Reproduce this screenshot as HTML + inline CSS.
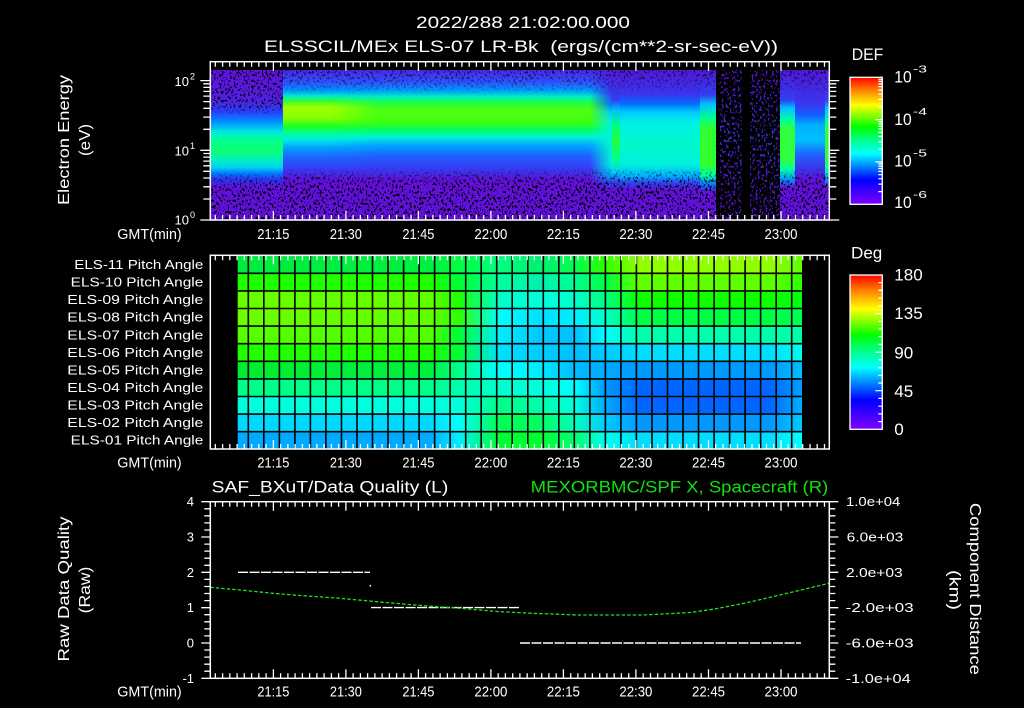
<!DOCTYPE html>
<html><head><meta charset="utf-8"><style>
html,body{margin:0;padding:0;background:#000;width:1024px;height:708px;overflow:hidden}
svg{display:block}
text{font-family:"Liberation Sans",sans-serif;fill:#fff}
</style></head><body>
<svg width="1024" height="708" viewBox="0 0 1024 708" xmlns="http://www.w3.org/2000/svg">
<defs>
<linearGradient id="rainbow" x1="0" y1="0" x2="0" y2="1">
<stop offset="0" stop-color="#ff0000"/><stop offset=".1" stop-color="#ff8000"/><stop offset=".22" stop-color="#ffff00"/><stop offset=".39" stop-color="#00ff00"/><stop offset=".5" stop-color="#00ff90"/><stop offset=".6" stop-color="#00ffff"/><stop offset=".81" stop-color="#0000ff"/><stop offset="1" stop-color="#8000ff"/>
</linearGradient>
<linearGradient id="gA" gradientUnits="userSpaceOnUse" x1="0" y1="70" x2="0" y2="220">
<stop offset="0" stop-color="#6010d8"/><stop offset=".2" stop-color="#5020e0"/><stop offset=".28" stop-color="#2840ff"/><stop offset=".347" stop-color="#0090ff"/><stop offset=".413" stop-color="#00e8e0"/><stop offset=".467" stop-color="#00ff90"/><stop offset=".533" stop-color="#10ff70"/><stop offset=".6" stop-color="#00f0c0"/><stop offset=".65" stop-color="#00d0f0"/><stop offset=".687" stop-color="#0080ff"/><stop offset=".733" stop-color="#3030f0"/><stop offset=".787" stop-color="#6010d8"/><stop offset="1" stop-color="#6010d8"/>
</linearGradient>
<linearGradient id="gB1" gradientUnits="userSpaceOnUse" x1="0" y1="70" x2="0" y2="220">
<stop offset="0" stop-color="#4828e8"/><stop offset=".08" stop-color="#3050ff"/><stop offset=".133" stop-color="#0090ff"/><stop offset=".173" stop-color="#00e8d0"/><stop offset=".207" stop-color="#30ff30"/><stop offset=".247" stop-color="#a0ff00"/><stop offset=".32" stop-color="#88ff00"/><stop offset=".373" stop-color="#20ff20"/><stop offset=".42" stop-color="#00ff90"/><stop offset=".467" stop-color="#00e8e8"/><stop offset=".52" stop-color="#00a0ff"/><stop offset=".587" stop-color="#2060ff"/><stop offset=".667" stop-color="#3838f0"/><stop offset=".733" stop-color="#6010d8"/><stop offset="1" stop-color="#6010d8"/>
</linearGradient>
<linearGradient id="gB2" gradientUnits="userSpaceOnUse" x1="0" y1="70" x2="0" y2="220">
<stop offset="0" stop-color="#4828e8"/><stop offset=".08" stop-color="#3050ff"/><stop offset=".133" stop-color="#0098ff"/><stop offset=".18" stop-color="#00f0c0"/><stop offset=".22" stop-color="#20ff40"/><stop offset=".267" stop-color="#50ff10"/><stop offset=".347" stop-color="#40ff10"/><stop offset=".4" stop-color="#00ff60"/><stop offset=".447" stop-color="#00f0d8"/><stop offset=".5" stop-color="#00a8ff"/><stop offset=".573" stop-color="#2060ff"/><stop offset=".667" stop-color="#3838f0"/><stop offset=".733" stop-color="#6010d8"/><stop offset="1" stop-color="#6010d8"/>
</linearGradient>
<linearGradient id="gC" gradientUnits="userSpaceOnUse" x1="0" y1="70" x2="0" y2="220">
<stop offset="0" stop-color="#5018d8"/><stop offset=".167" stop-color="#3838f0"/><stop offset=".227" stop-color="#0070ff"/><stop offset=".28" stop-color="#00c8ff"/><stop offset=".347" stop-color="#00f0e8"/><stop offset=".5" stop-color="#00f8c8"/><stop offset=".633" stop-color="#00f0e0"/><stop offset=".707" stop-color="#00b0ff"/><stop offset=".753" stop-color="#3040f0"/><stop offset=".8" stop-color="#6010d8"/><stop offset="1" stop-color="#6010d8"/>
</linearGradient>
<linearGradient id="gCg" gradientUnits="userSpaceOnUse" x1="0" y1="70" x2="0" y2="220">
<stop offset="0" stop-color="#5018d8"/><stop offset=".2" stop-color="#3040f0"/><stop offset=".267" stop-color="#00c0ff"/><stop offset=".367" stop-color="#00ff80"/><stop offset=".467" stop-color="#20ff40"/><stop offset=".6" stop-color="#00ff90"/><stop offset=".68" stop-color="#00d0ff"/><stop offset=".747" stop-color="#3040f0"/><stop offset=".8" stop-color="#6010d8"/><stop offset="1" stop-color="#6010d8"/>
</linearGradient>
<linearGradient id="gD" gradientUnits="userSpaceOnUse" x1="0" y1="70" x2="0" y2="220">
<stop offset="0" stop-color="#5018d8"/><stop offset=".167" stop-color="#3040f0"/><stop offset=".227" stop-color="#00c0ff"/><stop offset=".32" stop-color="#00ff90"/><stop offset=".387" stop-color="#30ff30"/><stop offset=".633" stop-color="#30ff30"/><stop offset=".7" stop-color="#00ffa0"/><stop offset=".76" stop-color="#0080ff"/><stop offset=".813" stop-color="#6010d8"/><stop offset="1" stop-color="#6010d8"/>
</linearGradient>
<linearGradient id="gE" gradientUnits="userSpaceOnUse" x1="0" y1="70" x2="0" y2="220">
<stop offset="0" stop-color="#5010c0"/><stop offset=".25" stop-color="#4020c8"/><stop offset=".45" stop-color="#3030d0"/><stop offset=".6" stop-color="#4020c0"/><stop offset="1" stop-color="#5010c0"/>
</linearGradient>
<linearGradient id="gF" gradientUnits="userSpaceOnUse" x1="0" y1="70" x2="0" y2="220">
<stop offset="0" stop-color="#5018d8"/><stop offset=".2" stop-color="#3040f0"/><stop offset=".253" stop-color="#00c0ff"/><stop offset=".333" stop-color="#00ffa0"/><stop offset=".387" stop-color="#30ff40"/><stop offset=".6" stop-color="#30ff40"/><stop offset=".667" stop-color="#00ffb0"/><stop offset=".733" stop-color="#0090ff"/><stop offset=".787" stop-color="#6010d8"/><stop offset="1" stop-color="#6010d8"/>
</linearGradient>
<linearGradient id="gG" gradientUnits="userSpaceOnUse" x1="0" y1="70" x2="0" y2="220">
<stop offset="0" stop-color="#5018d8"/><stop offset=".233" stop-color="#3838f0"/><stop offset=".3" stop-color="#1060ff"/><stop offset=".367" stop-color="#00b0ff"/><stop offset=".467" stop-color="#00c0ff"/><stop offset=".567" stop-color="#2060ff"/><stop offset=".667" stop-color="#4030e8"/><stop offset=".733" stop-color="#6010d8"/><stop offset="1" stop-color="#6010d8"/>
</linearGradient>
<linearGradient id="mgA" gradientUnits="userSpaceOnUse" x1="0" y1="70" x2="0" y2="220">
<stop offset="0" stop-color="#fff"/><stop offset=".233" stop-color="#ccc"/><stop offset=".3" stop-color="#000"/><stop offset=".68" stop-color="#000"/><stop offset=".747" stop-color="#bbb"/><stop offset=".8" stop-color="#fff"/><stop offset="1" stop-color="#fff"/>
</linearGradient>
<linearGradient id="mgB" gradientUnits="userSpaceOnUse" x1="0" y1="70" x2="0" y2="220">
<stop offset="0" stop-color="#aaa"/><stop offset=".1" stop-color="#555"/><stop offset=".167" stop-color="#000"/><stop offset=".653" stop-color="#000"/><stop offset=".72" stop-color="#aaa"/><stop offset=".787" stop-color="#fff"/><stop offset="1" stop-color="#fff"/>
</linearGradient>
<linearGradient id="fadeB1" gradientUnits="userSpaceOnUse" x1="330" y1="0" x2="378" y2="0"><stop offset="0" stop-color="#fff"/><stop offset="1" stop-color="#000"/></linearGradient>
<mask id="mB1" maskUnits="userSpaceOnUse" x="280" y="60" width="110" height="165"><rect x="283" y="70" width="100" height="150" fill="url(#fadeB1)"/></mask>
<linearGradient id="fadeC" gradientUnits="userSpaceOnUse" x1="590" y1="0" x2="612" y2="0"><stop offset="0" stop-color="#000"/><stop offset="1" stop-color="#fff"/></linearGradient>
<mask id="mC" maskUnits="userSpaceOnUse" x="585" y="60" width="120" height="165"><rect x="588" y="70" width="112" height="150" fill="url(#fadeC)"/></mask>
<mask id="spkMask" maskUnits="userSpaceOnUse" x="205" y="60" width="630" height="165">
<rect x="210" y="70" width="73" height="150" fill="url(#mgA)"/>
<rect x="283" y="70" width="433" height="150" fill="url(#mgB)"/>
<rect x="780" y="70" width="50" height="150" fill="url(#mgB)"/>
</mask>
<filter id="spk" filterUnits="userSpaceOnUse" x="210" y="70" width="620" height="150" color-interpolation-filters="sRGB">
<feTurbulence type="fractalNoise" baseFrequency="0.5 0.35" numOctaves="2" seed="7"/>
<feColorMatrix type="matrix" values="0 0 0 0 0  0 0 0 0 0  0 0 0 0 0  1 0 0 0 0"/>
<feComponentTransfer><feFuncA type="discrete" tableValues="1 1 0 0 0"/></feComponentTransfer>
</filter>
<filter id="spk2" filterUnits="userSpaceOnUse" x="716" y="70" width="64" height="150" color-interpolation-filters="sRGB">
<feTurbulence type="fractalNoise" baseFrequency="0.5 0.35" numOctaves="2" seed="11"/>
<feColorMatrix type="matrix" values="0 0 0 0 0  0 0 0 0 0  0 0 0 0 0  1 0 0 0 0"/>
<feComponentTransfer><feFuncA type="discrete" tableValues="1 1 1 0 0"/></feComponentTransfer>
</filter>
<!-- row gradients middle panel -->
<linearGradient id="r1" gradientUnits="userSpaceOnUse" x1="238" y1="0" x2="802" y2="0"><stop offset="0" stop-color="#00ec40"/><stop offset=".34" stop-color="#00f040"/><stop offset=".39" stop-color="#00ff40"/><stop offset=".465" stop-color="#00ff80"/><stop offset=".535" stop-color="#00f070"/><stop offset=".598" stop-color="#00ff50"/><stop offset=".651" stop-color="#30ff00"/><stop offset=".713" stop-color="#90ff00"/><stop offset=".943" stop-color="#90ff00"/><stop offset="1" stop-color="#60ff00"/></linearGradient>
<linearGradient id="r2" gradientUnits="userSpaceOnUse" x1="238" y1="0" x2="802" y2="0"><stop offset="0" stop-color="#20ff00"/><stop offset=".34" stop-color="#20ff00"/><stop offset=".39" stop-color="#00ff30"/><stop offset=".465" stop-color="#00ffa0"/><stop offset=".535" stop-color="#00f0b0"/><stop offset=".598" stop-color="#00ff90"/><stop offset=".651" stop-color="#00ff40"/><stop offset=".713" stop-color="#60ff00"/><stop offset=".943" stop-color="#60ff00"/><stop offset="1" stop-color="#30ff00"/></linearGradient>
<linearGradient id="r3" gradientUnits="userSpaceOnUse" x1="238" y1="0" x2="802" y2="0"><stop offset="0" stop-color="#66ff00"/><stop offset=".34" stop-color="#60ff00"/><stop offset=".39" stop-color="#20ff00"/><stop offset=".465" stop-color="#00ffcc"/><stop offset=".535" stop-color="#00ffdd"/><stop offset=".598" stop-color="#00ffcc"/><stop offset=".651" stop-color="#00ff80"/><stop offset=".713" stop-color="#10ff00"/><stop offset=".943" stop-color="#10ff00"/><stop offset="1" stop-color="#00ff10"/></linearGradient>
<linearGradient id="r4" gradientUnits="userSpaceOnUse" x1="238" y1="0" x2="802" y2="0"><stop offset="0" stop-color="#6aff00"/><stop offset=".34" stop-color="#60ff00"/><stop offset=".39" stop-color="#30ff00"/><stop offset=".465" stop-color="#00ffff"/><stop offset=".535" stop-color="#00e0ff"/><stop offset=".598" stop-color="#00eeff"/><stop offset=".651" stop-color="#00ffcc"/><stop offset=".713" stop-color="#00ff44"/><stop offset=".943" stop-color="#00ff44"/><stop offset="1" stop-color="#00ff50"/></linearGradient>
<linearGradient id="r5" gradientUnits="userSpaceOnUse" x1="238" y1="0" x2="802" y2="0"><stop offset="0" stop-color="#55ff00"/><stop offset=".34" stop-color="#50ff00"/><stop offset=".39" stop-color="#00ff30"/><stop offset=".465" stop-color="#00eeff"/><stop offset=".535" stop-color="#00c8ff"/><stop offset=".598" stop-color="#00c0ff"/><stop offset=".651" stop-color="#00ffff"/><stop offset=".713" stop-color="#00ffaa"/><stop offset=".943" stop-color="#00ffaa"/><stop offset="1" stop-color="#00ffaa"/></linearGradient>
<linearGradient id="r6" gradientUnits="userSpaceOnUse" x1="238" y1="0" x2="802" y2="0"><stop offset="0" stop-color="#22ff00"/><stop offset=".34" stop-color="#20ff00"/><stop offset=".39" stop-color="#00ff30"/><stop offset=".465" stop-color="#00e0ff"/><stop offset=".535" stop-color="#00ccff"/><stop offset=".598" stop-color="#00c0ff"/><stop offset=".651" stop-color="#00ccff"/><stop offset=".713" stop-color="#00ddff"/><stop offset=".943" stop-color="#00ddff"/><stop offset="1" stop-color="#00ffee"/></linearGradient>
<linearGradient id="r7" gradientUnits="userSpaceOnUse" x1="238" y1="0" x2="802" y2="0"><stop offset="0" stop-color="#00ee30"/><stop offset=".34" stop-color="#00f040"/><stop offset=".39" stop-color="#00ff88"/><stop offset=".465" stop-color="#00ffff"/><stop offset=".535" stop-color="#00eeff"/><stop offset=".598" stop-color="#00bbff"/><stop offset=".651" stop-color="#00aaff"/><stop offset=".713" stop-color="#0099ff"/><stop offset=".943" stop-color="#0099ff"/><stop offset="1" stop-color="#00c0ff"/></linearGradient>
<linearGradient id="r8" gradientUnits="userSpaceOnUse" x1="238" y1="0" x2="802" y2="0"><stop offset="0" stop-color="#00ff88"/><stop offset=".34" stop-color="#00ff88"/><stop offset=".39" stop-color="#00ffaa"/><stop offset=".465" stop-color="#00ffcc"/><stop offset=".535" stop-color="#00ffdd"/><stop offset=".598" stop-color="#00ffff"/><stop offset=".651" stop-color="#0099ff"/><stop offset=".713" stop-color="#0066ff"/><stop offset=".943" stop-color="#0066ff"/><stop offset="1" stop-color="#00a0ff"/></linearGradient>
<linearGradient id="r9" gradientUnits="userSpaceOnUse" x1="238" y1="0" x2="802" y2="0"><stop offset="0" stop-color="#00ffdd"/><stop offset=".34" stop-color="#00ffdd"/><stop offset=".39" stop-color="#00ffdd"/><stop offset=".465" stop-color="#00ff88"/><stop offset=".535" stop-color="#00ffaa"/><stop offset=".598" stop-color="#00ffdd"/><stop offset=".651" stop-color="#00aaff"/><stop offset=".713" stop-color="#0066ff"/><stop offset=".943" stop-color="#0066ff"/><stop offset="1" stop-color="#00b0ff"/></linearGradient>
<linearGradient id="r10" gradientUnits="userSpaceOnUse" x1="238" y1="0" x2="802" y2="0"><stop offset="0" stop-color="#00d8ff"/><stop offset=".34" stop-color="#00d8ff"/><stop offset=".39" stop-color="#00ffff"/><stop offset=".465" stop-color="#00ff50"/><stop offset=".535" stop-color="#00ff60"/><stop offset=".598" stop-color="#00ffbb"/><stop offset=".651" stop-color="#00ccff"/><stop offset=".713" stop-color="#0099ff"/><stop offset=".943" stop-color="#0099ff"/><stop offset="1" stop-color="#00c8ff"/></linearGradient>
<linearGradient id="r11" gradientUnits="userSpaceOnUse" x1="238" y1="0" x2="802" y2="0"><stop offset="0" stop-color="#00aaff"/><stop offset=".34" stop-color="#00aaff"/><stop offset=".39" stop-color="#00eeff"/><stop offset=".465" stop-color="#00ff30"/><stop offset=".535" stop-color="#00ff30"/><stop offset=".598" stop-color="#00ff70"/><stop offset=".651" stop-color="#00ffee"/><stop offset=".713" stop-color="#00ddff"/><stop offset=".943" stop-color="#00ddff"/><stop offset="1" stop-color="#00ffff"/></linearGradient>

<path id="xt" d="M215.3 0v5M222.6 0v5M229.8 0v5M237.1 0v5M244.3 0v5M251.6 0v5M258.8 0v5M266.1 0v5M273.4 0v9M280.6 0v5M287.9 0v5M295.1 0v5M302.4 0v5M309.6 0v5M316.9 0v5M324.1 0v5M331.4 0v5M338.6 0v5M345.9 0v9M353.1 0v5M360.4 0v5M367.6 0v5M374.9 0v5M382.1 0v5M389.4 0v5M396.6 0v5M403.9 0v5M411.1 0v5M418.4 0v9M425.6 0v5M432.9 0v5M440.1 0v5M447.4 0v5M454.6 0v5M461.9 0v5M469.2 0v5M476.4 0v5M483.7 0v5M490.9 0v9M498.2 0v5M505.4 0v5M512.7 0v5M519.9 0v5M527.2 0v5M534.4 0v5M541.7 0v5M548.9 0v5M556.2 0v5M563.4 0v9M570.7 0v5M577.9 0v5M585.2 0v5M592.4 0v5M599.7 0v5M606.9 0v5M614.2 0v5M621.4 0v5M628.7 0v5M635.9 0v9M643.2 0v5M650.5 0v5M657.7 0v5M665 0v5M672.2 0v5M679.5 0v5M686.7 0v5M694 0v5M701.2 0v5M708.5 0v9M715.7 0v5M723 0v5M730.2 0v5M737.5 0v5M744.7 0v5M752 0v5M759.2 0v5M766.5 0v5M773.7 0v5M781 0v9M788.2 0v5M795.5 0v5M802.7 0v5M810 0v5M817.2 0v5M824.5 0v5" stroke="#fff" stroke-width="1.3" fill="none"/>
<path id="yt" d="M210.3 220h-10M210.3 199h-7M210.3 186.8h-7M210.3 178h-7M210.3 171.3h-7M210.3 165.8h-7M210.3 161.1h-7M210.3 157.1h-7M210.3 153.5h-7M210.3 150.3h-10M210.3 129.3h-7M210.3 117.1h-7M210.3 108.3h-7M210.3 101.6h-7M210.3 96.1h-7M210.3 91.4h-7M210.3 87.4h-7M210.3 83.8h-7M210.3 80.6h-10" stroke="#fff" stroke-width="1.3" fill="none"/>
<path id="yb" d="M210.3 501.7h-9M210.3 508.8h-6M210.3 515.8h-6M210.3 522.9h-6M210.3 530h-6M210.3 537h-9M210.3 544.1h-6M210.3 551.1h-6M210.3 558.2h-6M210.3 565.3h-6M210.3 572.3h-9M210.3 579.4h-6M210.3 586.5h-6M210.3 593.5h-6M210.3 600.6h-6M210.3 607.7h-9M210.3 614.7h-6M210.3 621.8h-6M210.3 628.9h-6M210.3 635.9h-6M210.3 643h-9M210.3 650h-6M210.3 657.1h-6M210.3 664.2h-6M210.3 671.2h-6M210.3 678.3h-9" stroke="#fff" stroke-width="1.3" fill="none"/>
</defs>

<rect width="1024" height="708" fill="#000"/>

<!-- titles -->
<text x="523" y="28" font-size="17" text-anchor="middle" textLength="214" lengthAdjust="spacingAndGlyphs">2022/288 21:02:00.000</text>
<text x="521" y="52" font-size="17" text-anchor="middle" textLength="514" lengthAdjust="spacingAndGlyphs">ELSSCIL/MEx ELS-07 LR-Bk&#160;&#160;(ergs/(cm**2-sr-sec-eV))</text>

<!-- ===== top spectrogram ===== -->
<rect x="210.3" y="70" width="73" height="150" fill="url(#gA)"/>
<rect x="283" y="70" width="330" height="150" fill="url(#gB2)"/>
<rect x="283" y="70" width="100" height="150" fill="url(#gB1)" mask="url(#mB1)"/>
<rect x="588" y="70" width="112" height="150" fill="url(#gC)" mask="url(#mC)"/>
<rect x="612" y="70" width="8" height="150" fill="url(#gCg)"/>
<rect x="700" y="70" width="16" height="150" fill="url(#gD)"/>
<rect x="716" y="70" width="64" height="150" fill="url(#gE)"/>
<rect x="780" y="70" width="15" height="150" fill="url(#gF)"/>
<rect x="795" y="70" width="30" height="150" fill="url(#gG)"/>
<rect x="825" y="70" width="4.3" height="150" fill="url(#gF)"/>
<g mask="url(#spkMask)"><rect x="210" y="70" width="620" height="150" filter="url(#spk)"/></g>
<rect x="716" y="70" width="64" height="150" filter="url(#spk2)"/>
<rect x="742" y="70" width="8" height="150" fill="#000"/>
<rect x="716" y="70" width="4" height="150" fill="#000" opacity=".7"/>

<rect x="210.3" y="61.7" width="619" height="158.3" fill="none" stroke="#fff" stroke-width="1.5"/>
<use href="#xt" transform="translate(0,61.7)"/>
<use href="#xt" transform="translate(0,220) scale(1,-1)"/>
<use href="#yt"/>
<use href="#yt" transform="translate(1039.6,0) scale(-1,1)"/>

<text x="189" y="86" font-size="13" text-anchor="end">10</text><text x="190" y="79.5" font-size="9">2</text>
<text x="189" y="155.4" font-size="13" text-anchor="end">10</text><text x="190" y="149" font-size="9">1</text>
<text x="189" y="224.7" font-size="13" text-anchor="end">10</text><text x="190" y="218" font-size="9">0</text>

<text x="117.3" y="239" font-size="15" textLength="64.4" lengthAdjust="spacingAndGlyphs">GMT(min)</text>
<g font-size="15" text-anchor="middle">
<text x="273.4" y="239" textLength="32" lengthAdjust="spacingAndGlyphs">21:15</text>
<text x="345.9" y="239" textLength="32" lengthAdjust="spacingAndGlyphs">21:30</text>
<text x="418.4" y="239" textLength="32" lengthAdjust="spacingAndGlyphs">21:45</text>
<text x="490.9" y="239" textLength="33" lengthAdjust="spacingAndGlyphs">22:00</text>
<text x="563.4" y="239" textLength="33" lengthAdjust="spacingAndGlyphs">22:15</text>
<text x="635.9" y="239" textLength="33" lengthAdjust="spacingAndGlyphs">22:30</text>
<text x="708.5" y="239" textLength="33" lengthAdjust="spacingAndGlyphs">22:45</text>
<text x="781" y="239" textLength="33" lengthAdjust="spacingAndGlyphs">23:00</text>
</g>

<text transform="translate(69,140) rotate(-90)" font-size="16" text-anchor="middle" textLength="130" lengthAdjust="spacingAndGlyphs">Electron Energy</text>
<text transform="translate(90,140) rotate(-90)" font-size="16" text-anchor="middle" textLength="32" lengthAdjust="spacingAndGlyphs">(eV)</text>

<!-- DEF colorbar -->
<text x="851.7" y="60" font-size="17" textLength="31.6" lengthAdjust="spacingAndGlyphs">DEF</text>
<rect x="850" y="77.3" width="32.3" height="127" fill="url(#rainbow)" stroke="#fff" stroke-width="1.3"/>
<path d="M882.3 204.3h-7M882.3 191.6h-4M882.3 184.1h-4M882.3 178.8h-4M882.3 174.7h-4M882.3 171.4h-4M882.3 168.5h-4M882.3 166.1h-4M882.3 163.9h-4M882.3 162h-7M882.3 149.2h-4M882.3 141.8h-4M882.3 136.5h-4M882.3 132.4h-4M882.3 129h-4M882.3 126.2h-4M882.3 123.8h-4M882.3 121.6h-4M882.3 119.6h-7M882.3 106.9h-4M882.3 99.4h-4M882.3 94.2h-4M882.3 90h-4M882.3 86.7h-4M882.3 83.9h-4M882.3 81.4h-4M882.3 79.3h-4" stroke="#fff" stroke-width="1.2"/>
<g font-size="17">
<text x="894.3" y="82.7" textLength="17.4" lengthAdjust="spacingAndGlyphs">10</text>
<text x="894.3" y="124.8" textLength="17.4" lengthAdjust="spacingAndGlyphs">10</text>
<text x="894.3" y="166.5" textLength="17.4" lengthAdjust="spacingAndGlyphs">10</text>
<text x="894.3" y="208" textLength="17.4" lengthAdjust="spacingAndGlyphs">10</text>
</g>
<g font-size="10">
<text x="913" y="72.7" textLength="14" lengthAdjust="spacingAndGlyphs">-3</text>
<text x="913" y="114.8" textLength="14" lengthAdjust="spacingAndGlyphs">-4</text>
<text x="913" y="156.5" textLength="14" lengthAdjust="spacingAndGlyphs">-5</text>
<text x="913" y="198" textLength="14" lengthAdjust="spacingAndGlyphs">-6</text>
</g>

<!-- ===== middle pitch angle panel ===== -->
<rect x="237.7" y="255.7" width="564.3" height="17.6" fill="url(#r1)"/>
<rect x="237.7" y="273.3" width="564.3" height="17.6" fill="url(#r2)"/>
<rect x="237.7" y="290.9" width="564.3" height="17.6" fill="url(#r3)"/>
<rect x="237.7" y="308.5" width="564.3" height="17.6" fill="url(#r4)"/>
<rect x="237.7" y="326.1" width="564.3" height="17.6" fill="url(#r5)"/>
<rect x="237.7" y="343.7" width="564.3" height="17.6" fill="url(#r6)"/>
<rect x="237.7" y="361.3" width="564.3" height="17.6" fill="url(#r7)"/>
<rect x="237.7" y="378.9" width="564.3" height="17.6" fill="url(#r8)"/>
<rect x="237.7" y="396.5" width="564.3" height="17.6" fill="url(#r9)"/>
<rect x="237.7" y="414.1" width="564.3" height="17.6" fill="url(#r10)"/>
<rect x="237.7" y="431.7" width="564.3" height="17.3" fill="url(#r11)"/>
<path d="M248.3 255V449M263.8 255V449M279.4 255V449M294.9 255V449M310.4 255V449M325.9 255V449M341.5 255V449M357 255V449M372.5 255V449M388 255V449M403.6 255V449M419.1 255V449M434.6 255V449M450.1 255V449M465.7 255V449M481.2 255V449M496.7 255V449M512.2 255V449M527.8 255V449M543.3 255V449M558.8 255V449M574.3 255V449M589.9 255V449M605.4 255V449M620.9 255V449M636.4 255V449M652 255V449M667.5 255V449M683 255V449M698.5 255V449M714.1 255V449M729.6 255V449M745.1 255V449M760.6 255V449M776.2 255V449M791.7 255V449M237.7 273.3H802M237.7 290.9H802M237.7 308.5H802M237.7 326.1H802M237.7 343.7H802M237.7 361.3H802M237.7 378.9H802M237.7 396.5H802M237.7 414.1H802M237.7 431.7H802" stroke="#000" stroke-width="1.6" fill="none"/>
<rect x="210.3" y="255.3" width="619" height="193.7" fill="none" stroke="#fff" stroke-width="1.5"/>
<use href="#xt" transform="translate(0,255.3)"/>
<use href="#xt" transform="translate(0,449) scale(1,-1)"/>

<g font-size="13">
<text x="74.3" y="269" textLength="129" lengthAdjust="spacingAndGlyphs">ELS-11 Pitch Angle</text>
<text x="70.7" y="286.6" textLength="132.6" lengthAdjust="spacingAndGlyphs">ELS-10 Pitch Angle</text>
<text x="67.3" y="304.1" textLength="136" lengthAdjust="spacingAndGlyphs">ELS-09 Pitch Angle</text>
<text x="67.3" y="321.7" textLength="136" lengthAdjust="spacingAndGlyphs">ELS-08 Pitch Angle</text>
<text x="67.3" y="339.3" textLength="136" lengthAdjust="spacingAndGlyphs">ELS-07 Pitch Angle</text>
<text x="67.3" y="356.9" textLength="136" lengthAdjust="spacingAndGlyphs">ELS-06 Pitch Angle</text>
<text x="67.3" y="374.4" textLength="136" lengthAdjust="spacingAndGlyphs">ELS-05 Pitch Angle</text>
<text x="67.3" y="392" textLength="136" lengthAdjust="spacingAndGlyphs">ELS-04 Pitch Angle</text>
<text x="67.3" y="409.6" textLength="136" lengthAdjust="spacingAndGlyphs">ELS-03 Pitch Angle</text>
<text x="67.3" y="427.1" textLength="136" lengthAdjust="spacingAndGlyphs">ELS-02 Pitch Angle</text>
<text x="70.7" y="444.7" textLength="132.6" lengthAdjust="spacingAndGlyphs">ELS-01 Pitch Angle</text>
</g>

<text x="117.3" y="467.3" font-size="15" textLength="64.4" lengthAdjust="spacingAndGlyphs">GMT(min)</text>
<g font-size="15" text-anchor="middle">
<text x="273.4" y="467.3" textLength="32" lengthAdjust="spacingAndGlyphs">21:15</text>
<text x="345.9" y="467.3" textLength="32" lengthAdjust="spacingAndGlyphs">21:30</text>
<text x="418.4" y="467.3" textLength="32" lengthAdjust="spacingAndGlyphs">21:45</text>
<text x="490.9" y="467.3" textLength="33" lengthAdjust="spacingAndGlyphs">22:00</text>
<text x="563.4" y="467.3" textLength="33" lengthAdjust="spacingAndGlyphs">22:15</text>
<text x="635.9" y="467.3" textLength="33" lengthAdjust="spacingAndGlyphs">22:30</text>
<text x="708.5" y="467.3" textLength="33" lengthAdjust="spacingAndGlyphs">22:45</text>
<text x="781" y="467.3" textLength="33" lengthAdjust="spacingAndGlyphs">23:00</text>
</g>

<!-- Deg colorbar -->
<text x="851" y="258.3" font-size="17" textLength="31.3" lengthAdjust="spacingAndGlyphs">Deg</text>
<rect x="850" y="275" width="32.3" height="154.3" fill="url(#rainbow)" stroke="#fff" stroke-width="1.3"/>
<path d="M882.3 421.6h-4M882.3 413.9h-4M882.3 406.2h-4M882.3 398.4h-4M882.3 390.7h-7M882.3 383h-4M882.3 375.3h-4M882.3 367.6h-4M882.3 359.9h-4M882.3 352.2h-7M882.3 344.4h-4M882.3 336.7h-4M882.3 329h-4M882.3 321.3h-4M882.3 313.6h-7M882.3 305.9h-4M882.3 298.1h-4M882.3 290.4h-4M882.3 282.7h-4" stroke="#fff" stroke-width="1.2"/>
<g font-size="17">
<text x="894.3" y="280.7" textLength="28.4" lengthAdjust="spacingAndGlyphs">180</text>
<text x="894.3" y="319" textLength="28.4" lengthAdjust="spacingAndGlyphs">135</text>
<text x="894.3" y="358.3" textLength="19" lengthAdjust="spacingAndGlyphs">90</text>
<text x="894.3" y="397" textLength="19" lengthAdjust="spacingAndGlyphs">45</text>
<text x="894.3" y="435" textLength="9.5" lengthAdjust="spacingAndGlyphs">0</text>
</g>

<!-- ===== bottom panel ===== -->
<text x="211.7" y="492.7" font-size="17" textLength="236.6" lengthAdjust="spacingAndGlyphs">SAF_BXuT/Data Quality (L)</text>
<text x="530.7" y="492.7" font-size="17" textLength="297.6" lengthAdjust="spacingAndGlyphs" style="fill:#10e010">MEXORBMC/SPF X, Spacecraft (R)</text>

<g stroke="#fff" stroke-width="1.4" stroke-dasharray="10 1.5" fill="none">
<path d="M238 572.3H370"/>
<path d="M371 607.6H519"/>
<path d="M520 643H801"/>
</g>
<rect x="369.6" y="585" width="1.5" height="1.5" fill="#fff"/>
<polyline points="210.3,587.3 240,590 273,593.3 300,595.5 340,598.3 380,602 427,606 460,608.3 500,611.7 533,613.3 577,615 643,615 690,612.5 713,609.3 747,602.7 780,595 829,583.3" fill="none" stroke="#20e020" stroke-width="1.3" stroke-dasharray="3.5 2"/>

<rect x="210.3" y="501.7" width="619" height="176.6" fill="none" stroke="#fff" stroke-width="1.5"/>
<use href="#xt" transform="translate(0,501.7)"/>
<use href="#xt" transform="translate(0,678.3) scale(1,-1)"/>
<use href="#yb"/>
<use href="#yb" transform="translate(1039.6,0) scale(-1,1)"/>

<g font-size="13" text-anchor="end">
<text x="194" y="506.2">4</text>
<text x="194" y="541.5">3</text>
<text x="194" y="576.8">2</text>
<text x="194" y="612.1">1</text>
<text x="194" y="647.5">0</text>
<text x="194" y="682.8">-1</text>
</g>
<g font-size="13">
<text x="846" y="506.2" textLength="54.3" lengthAdjust="spacingAndGlyphs">1.0e+04</text>
<text x="846.7" y="541.5" textLength="56.6" lengthAdjust="spacingAndGlyphs">6.0e+03</text>
<text x="846" y="576.8" textLength="56.7" lengthAdjust="spacingAndGlyphs">2.0e+03</text>
<text x="845.7" y="612.1" textLength="68" lengthAdjust="spacingAndGlyphs">-2.0e+03</text>
<text x="845.7" y="647.5" textLength="68" lengthAdjust="spacingAndGlyphs">-6.0e+03</text>
<text x="845.7" y="682.8" textLength="65" lengthAdjust="spacingAndGlyphs">-1.0e+04</text>
</g>

<text x="117.3" y="696.7" font-size="15" textLength="64.4" lengthAdjust="spacingAndGlyphs">GMT(min)</text>
<g font-size="15" text-anchor="middle">
<text x="273.4" y="696.7" textLength="32" lengthAdjust="spacingAndGlyphs">21:15</text>
<text x="345.9" y="696.7" textLength="32" lengthAdjust="spacingAndGlyphs">21:30</text>
<text x="418.4" y="696.7" textLength="32" lengthAdjust="spacingAndGlyphs">21:45</text>
<text x="490.9" y="696.7" textLength="33" lengthAdjust="spacingAndGlyphs">22:00</text>
<text x="563.4" y="696.7" textLength="33" lengthAdjust="spacingAndGlyphs">22:15</text>
<text x="635.9" y="696.7" textLength="33" lengthAdjust="spacingAndGlyphs">22:30</text>
<text x="708.5" y="696.7" textLength="33" lengthAdjust="spacingAndGlyphs">22:45</text>
<text x="781" y="696.7" textLength="33" lengthAdjust="spacingAndGlyphs">23:00</text>
</g>

<text transform="translate(69,589) rotate(-90)" font-size="16" text-anchor="middle" textLength="145" lengthAdjust="spacingAndGlyphs">Raw Data Quality</text>
<text transform="translate(90,590) rotate(-90)" font-size="16" text-anchor="middle" textLength="46.7" lengthAdjust="spacingAndGlyphs">(Raw)</text>
<text transform="translate(970,589) rotate(90)" font-size="16" text-anchor="middle" textLength="172" lengthAdjust="spacingAndGlyphs">Component Distance</text>
<text transform="translate(949.5,590) rotate(90)" font-size="16" text-anchor="middle" textLength="40" lengthAdjust="spacingAndGlyphs">(km)</text>
</svg>
</body></html>
